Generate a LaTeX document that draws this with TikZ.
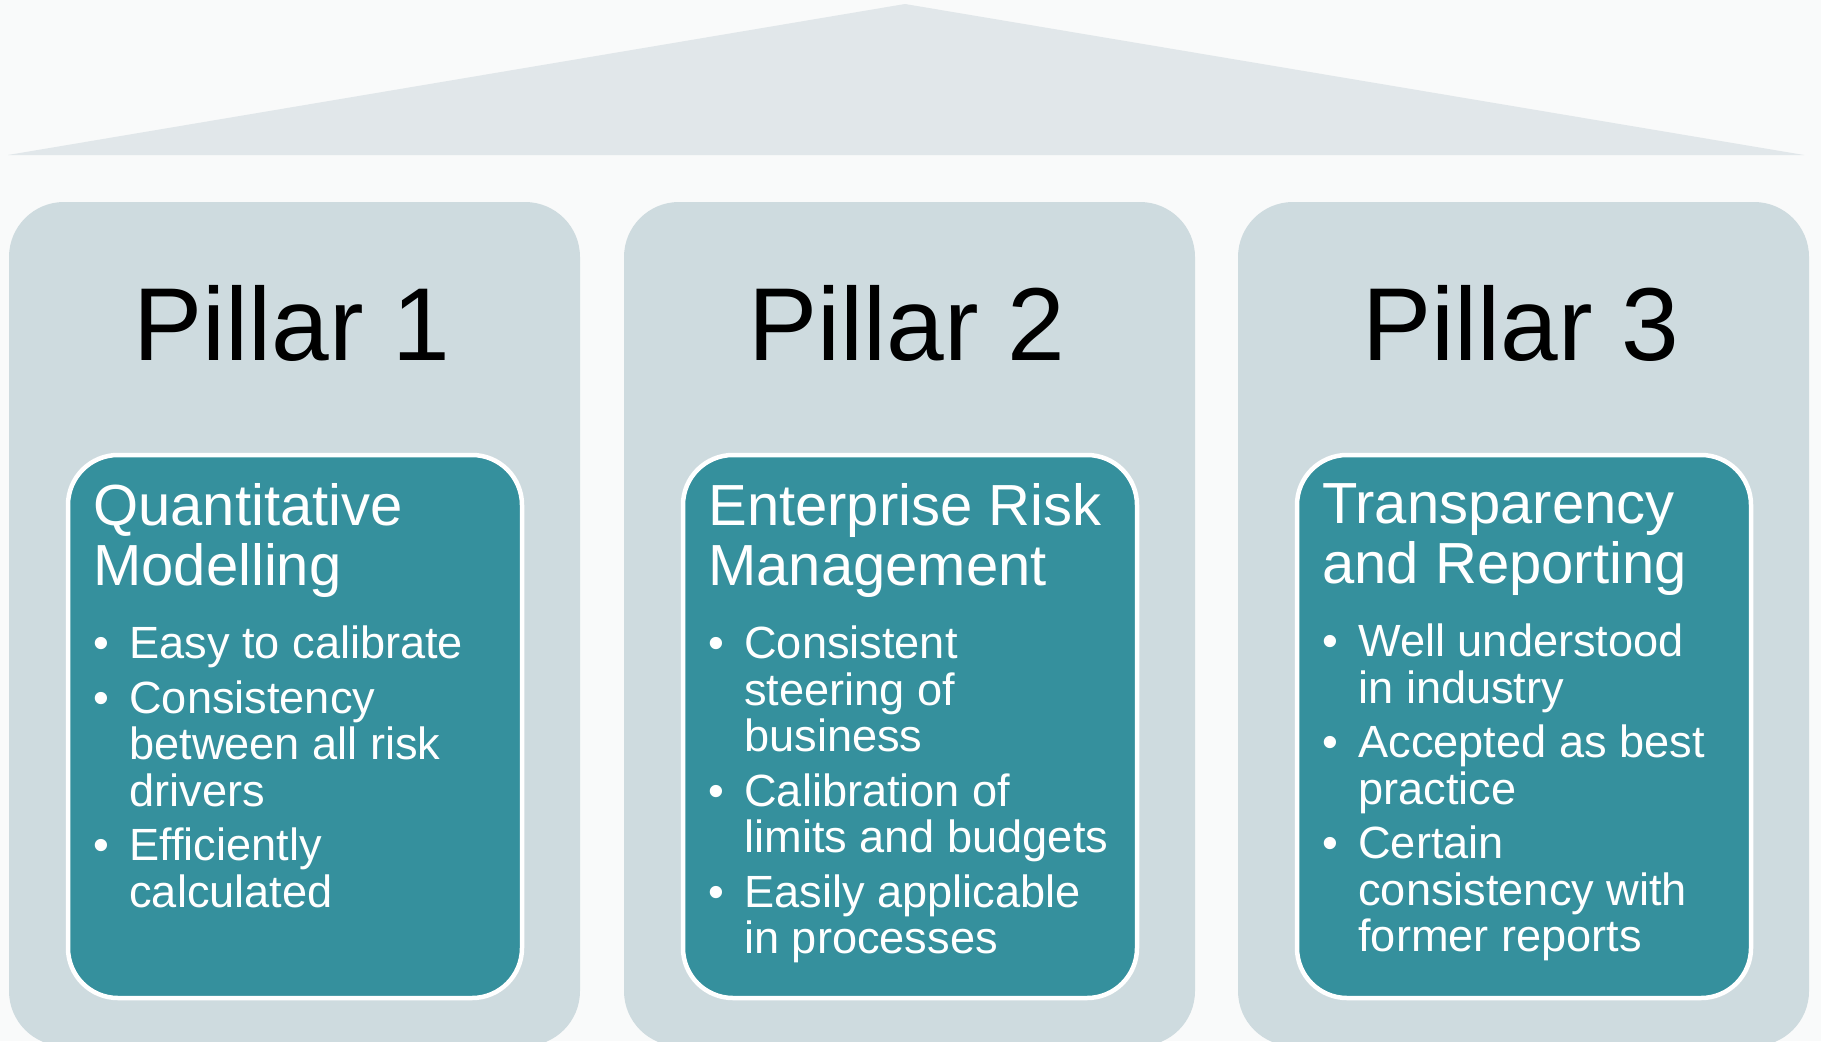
\documentclass[tikz,border=0pt]{standalone}
\usepackage{fontspec}
\setmainfont{Liberation Sans}

\definecolor{pagebg}{RGB}{249,250,250}
\definecolor{roofgray}{RGB}{225,231,234}
\definecolor{pillargray}{RGB}{206,219,223}
\definecolor{tealbox}{RGB}{53,144,157}

% heading and bullet lines inside the teal boxes
\newcommand{\boxhead}[1]{{\spaceskip=0pt\xspaceskip=0pt
  \fontsize{33pt}{1.2cm}\selectfont #1\par}}
\newcommand{\pitem}[1]{\par\hangindent=0.72cm\hangafter=1\noindent
  \makebox[0.72cm][l]{\hspace{0.01cm}\textbullet}#1\par}

\begin{document}
\begin{tikzpicture}[
  x=0.02cm, y=-0.02cm,
  pillar/.style = {fill=pillargray, rounded corners=1.1cm},
  teal/.style   = {fill=tealbox, draw=white, line width=0.09cm,
                   rounded corners=1.0cm},
  title/.style  = {anchor=base, inner sep=0pt,
                   font=\fontsize{59pt}{61pt}\selectfont},
  body/.style   = {anchor=north west, inner sep=0pt, text=white,
                   text width=8.4cm, align=left},
]

%% ── Page and roof ────────────────────────────────────────────────────────────
\fill[pagebg] (0,0) rectangle (1821,1041);
\useasboundingbox (0,0) rectangle (1821,1041);
\fill[roofgray] (8,155) -- (905,4) -- (1804,155) -- cycle;

%% ── Pillars with teal boxes (left edges in px) ───────────────────────────────
\foreach \xl in {9, 624, 1238}{
  \fill[pillar] (\xl,202) rectangle (\xl+571,1046);
  \draw[teal] (\xl+59,455) rectangle (\xl+513,998);
}

%% ── Titles ───────────────────────────────────────────────────────────────────
\node[title] (title1) at (292,360)  {Pillar 1};
\node[title] (title2) at (907,360)  {Pillar 2};
\node[title] (title3) at (1521,360) {Pillar 3};

%% ── Box texts ────────────────────────────────────────────────────────────────
\node[body] (body1) at (93,483) {%
  \boxhead{Quantitative\newline Modelling}
  \fontsize{25.7pt}{0.93cm}\selectfont \spaceskip=0pt\xspaceskip=0pt
  \vspace*{0.54cm}\pitem{Easy to calibrate}
  \vspace*{0.16cm}\pitem{Consistency\newline between all risk\newline drivers}
  \vspace*{0.16cm}\pitem{Efficiently\newline calculated}};

\node[body] (body2) at (708,483) {%
  \boxhead{Enterprise Risk\newline Management}
  \fontsize{25.7pt}{0.93cm}\selectfont \spaceskip=0pt\xspaceskip=0pt
  \vspace*{0.54cm}\pitem{Consistent\newline steering of\newline business}
  \vspace*{0.16cm}\pitem{Calibration of\newline limits and budgets}
  \vspace*{0.16cm}\pitem{Easily applicable\newline in processes}};

\node[body] (body3) at (1322,483) {%
  \boxhead{Transparency\newline and Reporting}
  \fontsize{25.7pt}{0.93cm}\selectfont \spaceskip=0pt\xspaceskip=0pt
  \vspace*{0.54cm}\pitem{Well understood\newline in industry}
  \vspace*{0.16cm}\pitem{Accepted as best\newline practice}
  \vspace*{0.16cm}\pitem{Certain\newline consistency with\newline former reports}};

\end{tikzpicture}
\end{document}
